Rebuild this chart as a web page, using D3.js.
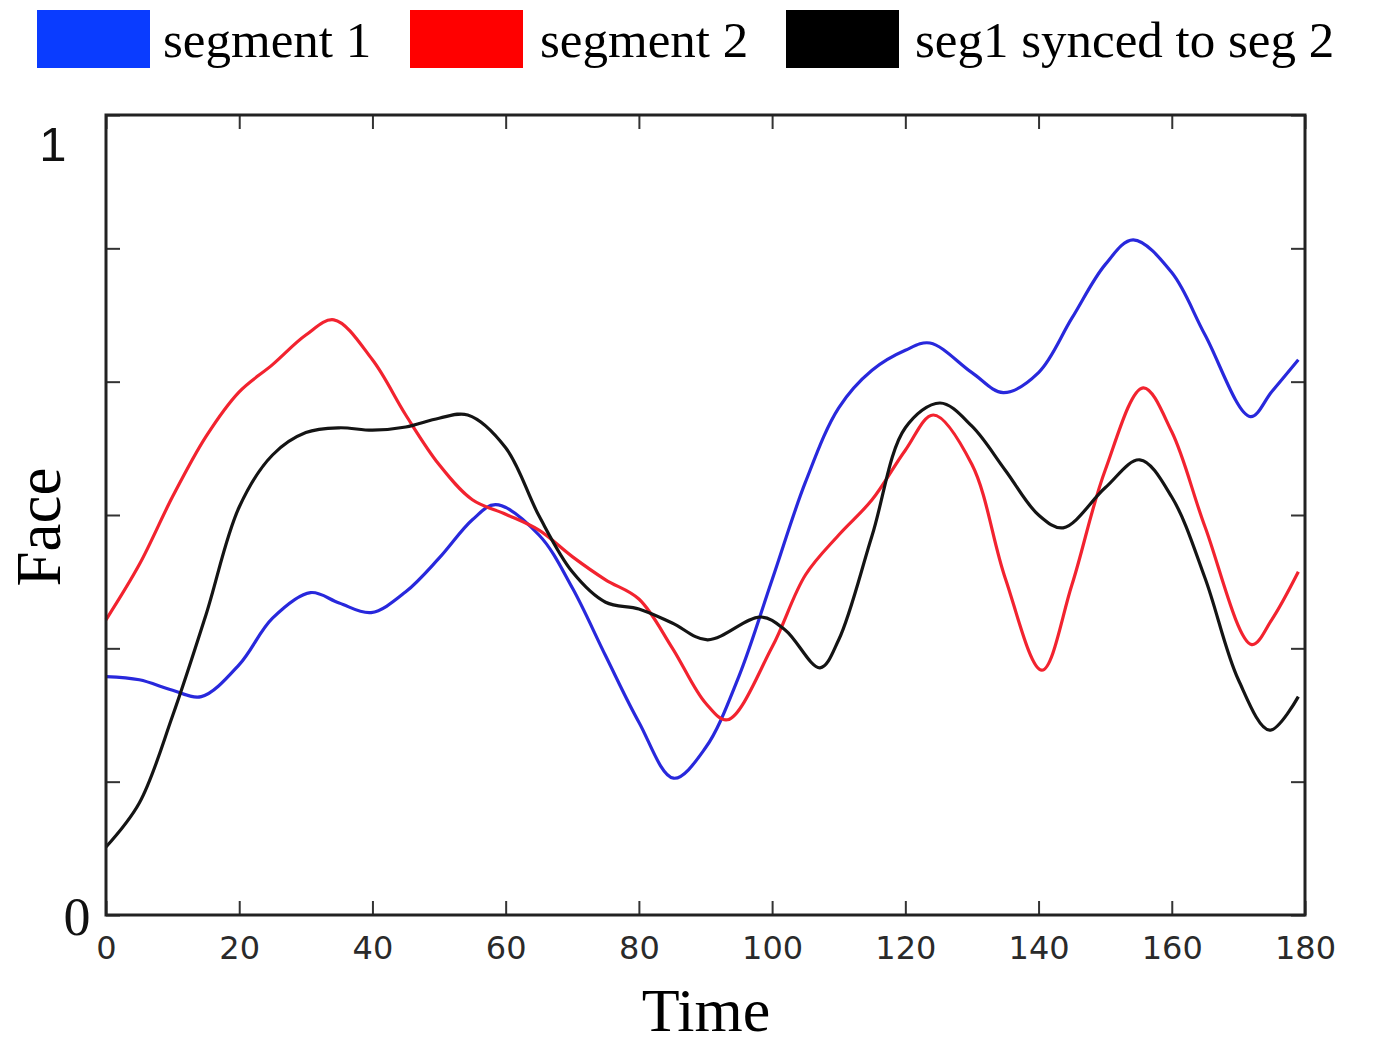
<!DOCTYPE html>
<html>
<head>
<meta charset="utf-8">
<script src="https://cdn.jsdelivr.net/npm/d3@7"></script>
<style>
  html, body { margin: 0; padding: 0; background: #fff; }
  svg { display: block; }
</style>
</head>
<body>
<svg id="chart" width="1373" height="1049"></svg>
<script>
// ---- data ----
const seriesNames = ["segment 1", "segment 2", "seg1 synced to seg 2"];

const seg1T = [0, 5, 10, 14.3, 20, 25, 30.7, 35, 39.8, 45, 50, 55, 58.5, 65, 70, 75, 80, 85.2, 90, 95, 100, 105, 110, 115, 120, 123.7, 130, 134.7, 140, 145, 150, 154.2, 160, 165, 171.8, 175, 179];
const seg1V = [0.298, 0.294, 0.281, 0.273, 0.313, 0.371, 0.403, 0.390, 0.378, 0.404, 0.446, 0.494, 0.513, 0.475, 0.409, 0.324, 0.241, 0.171, 0.209, 0.298, 0.419, 0.541, 0.634, 0.681, 0.706, 0.715, 0.678, 0.653, 0.678, 0.746, 0.813, 0.844, 0.803, 0.725, 0.623, 0.654, 0.694];

const seg2T = [0, 5, 10, 15, 20, 25, 30, 34.2, 40, 45, 50, 55, 60, 65, 70, 75, 80, 85, 90, 93.3, 100, 105, 110, 115, 120, 124.2, 130, 135, 140.5, 145, 150, 155.7, 160, 165, 172, 175, 179];
const seg2V = [0.369, 0.438, 0.523, 0.598, 0.654, 0.688, 0.725, 0.744, 0.694, 0.625, 0.563, 0.519, 0.501, 0.481, 0.448, 0.419, 0.395, 0.334, 0.265, 0.244, 0.335, 0.425, 0.475, 0.519, 0.581, 0.625, 0.563, 0.421, 0.306, 0.4125, 0.556, 0.659, 0.604, 0.485, 0.338, 0.369, 0.429];

const syncT = [0, 5, 10, 15, 20, 25, 30, 35, 40, 45, 50, 54.3, 60, 65, 70, 75, 80, 85, 90.3, 98.3, 102, 107.2, 110, 115, 120, 125.2, 130, 135, 140, 143.7, 150, 155.2, 160, 165, 170, 174.7, 179];
const syncV = [0.085, 0.140, 0.249, 0.375, 0.510, 0.575, 0.603, 0.609, 0.606, 0.610, 0.621, 0.625, 0.584, 0.499, 0.429, 0.391, 0.3825, 0.365, 0.344, 0.3725, 0.356, 0.309, 0.344, 0.474, 0.609, 0.640, 0.611, 0.556, 0.500, 0.484, 0.534, 0.569, 0.5225, 0.421, 0.294, 0.231, 0.273];

const xTicks = [0, 20, 40, 60, 80, 100, 120, 140, 160, 180];
const yTicks = [0, 1/6, 2/6, 3/6, 4/6, 5/6, 1];
const yLabelValues = [0, 0.965];
const yLabelTexts = ["0", "1"];

const lineColors = ["#2828dc", "#f2232f", "#141414"];
const legendColors = ["#0a3cff", "#ff0000", "#000000"];

// ---- layout ----
const svg = d3.select("#chart");
const plot = { left: 106, right: 1305, top: 115, bottom: 915 };

const x = d3.scaleLinear().domain([0, 180]).range([plot.left, plot.right]);
const y = d3.scaleLinear().domain([0, 1]).range([plot.bottom, plot.top]);

// ---- axes (ticks inside) ----
const tickLen = 14;
const axB = svg.append("g").attr("transform", `translate(0,${plot.bottom})`)
  .call(d3.axisBottom(x).tickValues(xTicks).tickSizeInner(-tickLen).tickSizeOuter(0).tickPadding(tickLen + 7).tickFormat(d3.format("d")));
const axT = svg.append("g").attr("transform", `translate(0,${plot.top})`)
  .call(d3.axisTop(x).tickValues(xTicks).tickSizeInner(-tickLen).tickSizeOuter(0).tickFormat(""));
const axL = svg.append("g").attr("transform", `translate(${plot.left},0)`)
  .call(d3.axisLeft(y).tickValues(yTicks).tickSizeInner(-tickLen).tickSizeOuter(0).tickFormat(""));
const axR = svg.append("g").attr("transform", `translate(${plot.right},0)`)
  .call(d3.axisRight(y).tickValues(yTicks).tickSizeInner(-tickLen).tickSizeOuter(0).tickFormat(""));

[axB, axT, axL, axR].forEach(g => {
  g.select(".domain").remove();
  g.selectAll(".tick line").attr("stroke", "#333").attr("stroke-width", 2);
});
axB.selectAll(".tick text")
  .attr("font-family", "DejaVu Sans, sans-serif")
  .attr("font-size", 32)
  .attr("fill", "#2a2a2a");

// ---- series ----
const series = [
  { t: seg1T, v: seg1V },
  { t: seg2T, v: seg2V },
  { t: syncT, v: syncV }
];
const line = d3.line()
  .x(d => x(d[0]))
  .y(d => y(d[1]))
  .curve(d3.curveCatmullRom.alpha(0.5));

series.forEach((s, i) => {
  const pts = s.t.map((t, k) => [t, s.v[k]]);
  svg.append("path")
    .datum(pts)
    .attr("d", line)
    .attr("fill", "none")
    .attr("stroke", lineColors[i])
    .attr("stroke-width", 3.2)
    .attr("stroke-linejoin", "round");
});

// ---- frame ----
svg.append("rect")
  .attr("x", plot.left).attr("y", plot.top)
  .attr("width", plot.right - plot.left).attr("height", plot.bottom - plot.top)
  .attr("fill", "none").attr("stroke", "#222").attr("stroke-width", 3);

// ---- y labels (0 and 1) ----
svg.append("text")
  .attr("x", 77).attr("y", y(yLabelValues[0]) + 20)
  .attr("text-anchor", "middle")
  .attr("font-family", "Liberation Serif, serif")
  .attr("font-size", 54)
  .attr("fill", "#111")
  .text(yLabelTexts[0]);
svg.append("text")
  .attr("x", 53).attr("y", y(yLabelValues[1]) + 18)
  .attr("text-anchor", "middle")
  .attr("font-family", "Liberation Sans, Arial, sans-serif")
  .attr("font-size", 49)
  .attr("fill", "#111")
  .text(yLabelTexts[1]);

// ---- axis titles ----
svg.append("text")
  .attr("x", 706).attr("y", 1031)
  .attr("text-anchor", "middle")
  .attr("font-family", "Liberation Serif, 'Times New Roman', serif")
  .attr("font-size", 62)
  .attr("fill", "#000")
  .text("Time");
svg.append("text")
  .attr("transform", "translate(60,527) rotate(-90)")
  .attr("text-anchor", "middle")
  .attr("font-family", "Liberation Serif, 'Times New Roman', serif")
  .attr("font-size", 63)
  .attr("fill", "#000")
  .text("Face");

// ---- legend ----
const legendRectX = [37, 410, 786];
const legendTextX = [163, 540, 915];
seriesNames.forEach((name, i) => {
  svg.append("rect")
    .attr("x", legendRectX[i]).attr("y", 10)
    .attr("width", 113).attr("height", 58)
    .attr("fill", legendColors[i]);
  svg.append("text")
    .attr("x", legendTextX[i]).attr("y", 57)
    .attr("font-family", "Liberation Serif, 'Times New Roman', serif")
    .attr("font-size", 51)
    .attr("fill", "#000")
    .text(name);
});
</script>
</body>
</html>
